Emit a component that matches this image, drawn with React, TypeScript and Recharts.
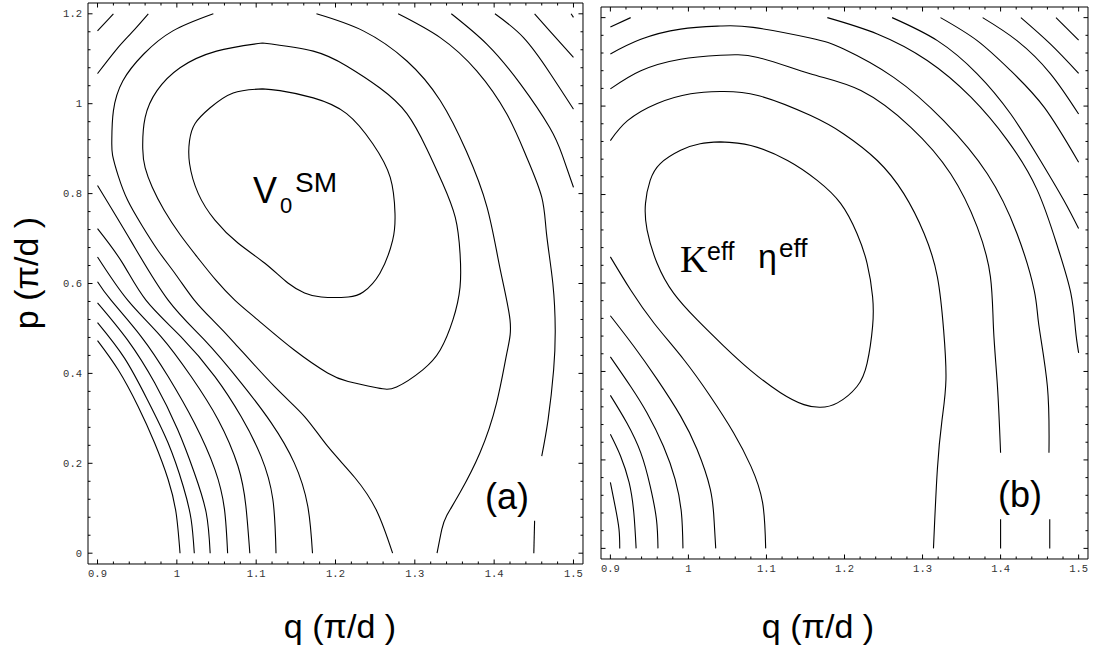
import { LineChart, Line, XAxis, YAxis } from 'recharts'

type Pt = [number, number]

// contour lines, each point is [q, p] in units of pi/d

// panel (a): V0^SM
const aCorner1: Pt[] = [[0.9, 1.162], [0.92, 1.2]]
const aCorner2: Pt[] = [[0.9, 1.067], [0.924, 1.121], [0.943, 1.158], [0.964, 1.2]]
const aWrap: Pt[] = [
  [1.046, 1.2], [0.995, 1.162], [0.958, 1.11], [0.932, 1.051], [0.92, 0.984], [0.918, 0.918],
  [0.919, 0.885], [0.926, 0.84], [0.938, 0.785], [0.956, 0.729], [0.976, 0.674], [0.999, 0.619],
  [1.022, 0.563], [1.045, 0.519], [1.073, 0.467], [1.123, 0.371], [1.161, 0.304], [1.19, 0.238],
  [1.224, 0.169], [1.252, 0.094], [1.272, 0],
]
const aLoopOuter: Pt[] = [
  [1.108, 1.135], [1.172, 1.117], [1.214, 1.084], [1.256, 1.035], [1.29, 0.978], [1.315, 0.9],
  [1.335, 0.823], [1.351, 0.747], [1.357, 0.667], [1.357, 0.592], [1.348, 0.519], [1.332, 0.452],
  [1.31, 0.408], [1.277, 0.37], [1.252, 0.368], [1.216, 0.382], [1.19, 0.401], [1.148, 0.452],
  [1.102, 0.519], [1.073, 0.563], [1.049, 0.608], [1.027, 0.656], [1.004, 0.709], [0.984, 0.763],
  [0.969, 0.814], [0.96, 0.858], [0.957, 0.9], [0.96, 0.969], [0.975, 1.029], [1.004, 1.08],
  [1.05, 1.117], [1.108, 1.135],
]
const aLoopInner: Pt[] = [
  [1.108, 1.033], [1.13, 1.029], [1.172, 1.013], [1.214, 0.978], [1.247, 0.911], [1.269, 0.836],
  [1.275, 0.756], [1.272, 0.696], [1.256, 0.623], [1.235, 0.581], [1.216, 0.57], [1.182, 0.57],
  [1.161, 0.579], [1.14, 0.601], [1.111, 0.645], [1.077, 0.69], [1.048, 0.741], [1.027, 0.8],
  [1.016, 0.867], [1.016, 0.918], [1.023, 0.956], [1.042, 0.991], [1.071, 1.024], [1.108, 1.033],
]
const aLow1: Pt[] = [[0.9, 0.473], [0.926, 0.408], [0.951, 0.327], [0.972, 0.245], [0.989, 0.164], [0.999, 0.09], [1.004, 0]]
const aLow2: Pt[] = [[0.9, 0.513], [0.934, 0.434], [0.963, 0.341], [0.989, 0.245], [1.008, 0.149], [1.018, 0.075], [1.022, 0]]
const aLow3: Pt[] = [[0.9, 0.557], [0.938, 0.474], [0.972, 0.379], [1.001, 0.275], [1.022, 0.179], [1.037, 0.09], [1.042, 0]]
const aLow4: Pt[] = [[0.9, 0.604], [0.917, 0.563], [0.955, 0.482], [0.989, 0.393], [1.022, 0.29], [1.048, 0.186], [1.06, 0.098], [1.064, 0]]
const aLow5: Pt[] = [[0.9, 0.659], [0.938, 0.563], [0.98, 0.482], [1.018, 0.393], [1.052, 0.297], [1.077, 0.194], [1.087, 0.105], [1.092, 0]]
const aLow6: Pt[] = [[0.9, 0.722], [0.931, 0.647], [0.961, 0.563], [1.005, 0.482], [1.048, 0.393], [1.081, 0.304], [1.106, 0.216], [1.121, 0.12], [1.125, 0]]
const aLow7: Pt[] = [[0.9, 0.818], [0.943, 0.692], [0.989, 0.563], [1.035, 0.474], [1.081, 0.379], [1.119, 0.29], [1.148, 0.201], [1.165, 0.105], [1.171, 0]]
const aArc1: Pt[] = [
  [1.176, 1.2], [1.235, 1.162], [1.29, 1.095], [1.332, 1.007], [1.365, 0.894], [1.391, 0.77],
  [1.407, 0.637], [1.42, 0.519], [1.416, 0.445], [1.403, 0.334], [1.382, 0.223], [1.357, 0.135],
  [1.34, 0.083], [1.334, 0.053], [1.328, 0],
]
const aArc2: Pt[] = [
  [1.279, 1.2], [1.332, 1.147], [1.378, 1.073], [1.416, 0.977], [1.441, 0.881], [1.46, 0.792],
  [1.466, 0.711], [1.474, 0.6], [1.477, 0.497], [1.475, 0.408], [1.468, 0.297], [1.46, 0.216],
]
const aArc2End: Pt[] = [[1.451, 0.072], [1.45, 0]]
const aArc3: Pt[] = [[1.346, 1.2], [1.391, 1.132], [1.433, 1.044], [1.47, 0.947], [1.486, 0.885], [1.5, 0.814]]
const aArc4: Pt[] = [[1.401, 1.2], [1.437, 1.147], [1.47, 1.069], [1.5, 0.988]]
const aArc5: Pt[] = [[1.451, 1.2], [1.47, 1.162], [1.5, 1.103]]
const aArc6: Pt[] = [[1.497, 1.2], [1.5, 1.192]]

// panel (b): K^eff eta^eff
const bCorner: Pt[] = [[0.9, 1.179], [0.926, 1.2]]
const bArc1: Pt[] = [
  [0.9, 1.118], [0.939, 1.151], [0.99, 1.174], [1.041, 1.181], [1.083, 1.178], [1.156, 1.154],
  [1.199, 1.129], [1.263, 1.065], [1.327, 0.967], [1.383, 0.847], [1.421, 0.712], [1.443, 0.584],
  [1.449, 0.505], [1.46, 0.366], [1.462, 0.216],
]
const bArc1End: Pt[] = [[1.463, 0.066], [1.463, 0]]
const bArc2: Pt[] = [
  [0.9, 1.039], [0.939, 1.08], [0.99, 1.106], [1.041, 1.115], [1.089, 1.11], [1.156, 1.073],
  [1.221, 1.035], [1.285, 0.952], [1.336, 0.847], [1.37, 0.727], [1.387, 0.614], [1.391, 0.494],
  [1.396, 0.366], [1.4, 0.216],
]
const bArc2End: Pt[] = [[1.4, 0.066], [1.4, 0]]
const bArc3: Pt[] = [
  [0.9, 0.922], [0.922, 0.967], [0.96, 1.006], [1.003, 1.028], [1.041, 1.033], [1.089, 1.024],
  [1.156, 0.979], [1.199, 0.937], [1.242, 0.877], [1.276, 0.802], [1.302, 0.712], [1.319, 0.614],
  [1.327, 0.494], [1.33, 0.382], [1.325, 0.291], [1.319, 0.179], [1.314, 0],
]
const bLoop: Pt[] = [
  [1.041, 0.919], [1.08, 0.911], [1.127, 0.877], [1.165, 0.832], [1.195, 0.78], [1.216, 0.712],
  [1.229, 0.644], [1.236, 0.569], [1.236, 0.502], [1.229, 0.419], [1.216, 0.366], [1.191, 0.329],
  [1.169, 0.319], [1.148, 0.325], [1.118, 0.352], [1.08, 0.402], [1.045, 0.458], [1.011, 0.517],
  [0.981, 0.577], [0.96, 0.644], [0.947, 0.72], [0.945, 0.78], [0.951, 0.832], [0.964, 0.87],
  [0.99, 0.9], [1.015, 0.915], [1.041, 0.919],
]
const bTop1: Pt[] = [[1.178, 1.2], [1.242, 1.163], [1.306, 1.103], [1.362, 1.02], [1.409, 0.922], [1.447, 0.81], [1.473, 0.682], [1.49, 0.577], [1.496, 0.494], [1.5, 0.442]]
const bTop2: Pt[] = [[1.261, 1.2], [1.319, 1.148], [1.37, 1.073], [1.413, 0.982], [1.451, 0.877], [1.481, 0.787], [1.5, 0.723]]
const bTop3: Pt[] = [[1.323, 1.2], [1.37, 1.148], [1.413, 1.08], [1.456, 0.997], [1.5, 0.873]]
const bTop4: Pt[] = [[1.377, 1.2], [1.421, 1.148], [1.464, 1.073], [1.5, 0.982]]
const bTop5: Pt[] = [[1.426, 1.2], [1.464, 1.14], [1.5, 1.074]]
const bTop6: Pt[] = [[1.471, 1.2], [1.5, 1.149]]
const bLow1: Pt[] = [[0.9, 0.149], [0.906, 0.096], [0.911, 0.044], [0.912, 0]]
const bLow2: Pt[] = [[0.9, 0.258], [0.913, 0.209], [0.924, 0.149], [0.93, 0.081], [0.933, 0]]
const bLow3: Pt[] = [[0.9, 0.346], [0.921, 0.284], [0.939, 0.216], [0.951, 0.141], [0.959, 0.066], [0.961, 0]]
const bLow4: Pt[] = [[0.9, 0.433], [0.926, 0.366], [0.947, 0.306], [0.968, 0.231], [0.983, 0.156], [0.991, 0.081], [0.993, 0]]
const bLow5: Pt[] = [[0.9, 0.526], [0.93, 0.457], [0.96, 0.382], [0.99, 0.299], [1.011, 0.224], [1.028, 0.134], [1.033, 0.06], [1.035, 0]]
const bLow6: Pt[] = [[0.9, 0.659], [0.926, 0.584], [0.956, 0.509], [0.994, 0.427], [1.028, 0.344], [1.058, 0.261], [1.08, 0.186], [1.095, 0.104], [1.099, 0]]

const panelA = [aCorner1, aCorner2, aWrap, aLoopOuter, aLoopInner, aLow1, aLow2, aLow3, aLow4, aLow5, aLow6, aLow7,
  aArc1, aArc2, aArc2End, aArc3, aArc4, aArc5, aArc6]
const panelB = [bCorner, bArc1, bArc1End, bArc2, bArc2End, bArc3, bLoop, bTop1, bTop2, bTop3, bTop4, bTop5, bTop6,
  bLow1, bLow2, bLow3, bLow4, bLow5, bLow6]

const Q_DOMAIN: [number, number] = [0.888, 1.512]
const P_DOMAIN: [number, number] = [-0.024, 1.224]

// frame ticks: minor every 0.02 in q and 0.04 in p
const qTicks: number[] = []
for (let i = 0; i <= 30; i++) qTicks.push(+(0.9 + i * 0.02).toFixed(2))
const pTicks: number[] = []
for (let i = 0; i <= 30; i++) pTicks.push(+(i * 0.04).toFixed(2))

const W = 1094
const H = 651
const AX = 0.01 // axes take (almost) no room, the margins place the frame

const isMajor = (v: number, step: number) => Math.abs(v / step - Math.round(v / step)) < 1e-6
const fmt = (v: number) => (Number.isInteger(v) ? String(v) : v.toFixed(1))

const tickFont = {
  fontFamily: '"Liberation Mono", "DejaVu Sans Mono", monospace',
  fontSize: 10.5,
  fill: '#333',
}

const makeTick = (side: 'bottom' | 'top' | 'left' | 'right', labels: boolean) => (props: any) => {
  const { x, y, payload } = props
  const v = payload.value as number
  const horiz = side === 'bottom' || side === 'top'
  const major = isMajor(v, horiz ? 0.1 : 0.2)
  const len = major ? 4.5 : 2.5
  let x2 = x
  let y2 = y
  if (side === 'bottom') y2 = y - len
  if (side === 'top') y2 = y + len
  if (side === 'left') x2 = x + len
  if (side === 'right') x2 = x - len
  return (
    <g>
      <line x1={x} y1={y} x2={x2} y2={y2} stroke="#000" strokeWidth={1} />
      {labels && major && side === 'bottom' && (
        <text x={x} y={y + 13.5} textAnchor="middle" {...tickFont}>{fmt(v)}</text>
      )}
      {labels && major && side === 'left' && (
        <text x={x - 6} y={y + 3.5} textAnchor="end" {...tickFont}>{fmt(v)}</text>
      )}
    </g>
  )
}

interface PanelProps {
  curves: Pt[][]
  margin: { top: number; right: number; bottom: number; left: number }
  yLabels: boolean
}

function Panel({ curves, margin, yLabels }: PanelProps) {
  const axisLine = { stroke: '#000', strokeWidth: 1 }
  return (
    <div style={{ position: 'absolute', left: 0, top: 0 }}>
      <LineChart width={W} height={H} margin={margin}>
        <XAxis xAxisId="b" type="number" dataKey="q" domain={Q_DOMAIN} ticks={qTicks} interval={0}
          height={AX} tickLine={false} tickSize={0} tickMargin={0} axisLine={axisLine}
          tick={makeTick('bottom', true)} allowDataOverflow />
        <XAxis xAxisId="t" orientation="top" type="number" dataKey="q" domain={Q_DOMAIN} ticks={qTicks} interval={0}
          height={AX} tickLine={false} tickSize={0} tickMargin={0} axisLine={axisLine}
          tick={makeTick('top', false)} allowDataOverflow />
        <YAxis yAxisId="l" type="number" domain={P_DOMAIN} ticks={pTicks} interval={0}
          width={AX} tickLine={false} tickSize={0} tickMargin={0} axisLine={axisLine}
          tick={makeTick('left', yLabels)} allowDataOverflow />
        <YAxis yAxisId="r" orientation="right" type="number" domain={P_DOMAIN} ticks={pTicks} interval={0}
          width={AX} tickLine={false} tickSize={0} tickMargin={0} axisLine={axisLine}
          tick={makeTick('right', false)} allowDataOverflow />
        {curves.map((c, i) => (
          <Line key={i} xAxisId="b" yAxisId="l" data={c.map(([q, p]) => ({ q, p }))} dataKey="p"
            type="natural" stroke="#000" strokeWidth={1.1} dot={false} activeDot={false}
            isAnimationActive={false} />
        ))}
      </LineChart>
    </div>
  )
}

const sans = '"Liberation Sans", Arial, sans-serif'

export default function App() {
  return (
    <div style={{ position: 'absolute', left: 0, top: 0, width: W, height: H, background: '#fff', overflow: 'hidden' }}>
      <Panel curves={panelA} margin={{ top: 3, left: 88, right: W - 583, bottom: H - 564 }} yLabels />
      <Panel curves={panelB} margin={{ top: 7, left: 601, right: W - 1088, bottom: H - 559 }} yLabels={false} />
      <svg width={W} height={H} style={{ position: 'absolute', left: 0, top: 0, pointerEvents: 'none' }}>
        <g fontFamily={sans} fill="#000">
          <text transform="translate(38,273) rotate(-90)" textAnchor="middle" fontSize={34}>p (π/d )</text>
          <text x={340} y={638} textAnchor="middle" fontSize={34}>q (π/d )</text>
          <text x={818} y={638} textAnchor="middle" fontSize={34}>q (π/d )</text>
          <text x={253} y={203} fontSize={36}>V</text>
          <text x={280} y={213} fontSize={22}>0</text>
          <text x={295} y={192} fontSize={28}>SM</text>
          <text x={680} y={272} fontSize={38} fontFamily='"Liberation Serif", "Times New Roman", serif'>K</text>
          <text x={707} y={260} fontSize={25}>eff</text>
          <text x={758} y={268} fontSize={34}>η</text>
          <text x={779} y={257} fontSize={26}>eff</text>
          <text x={485} y={509} fontSize={36}>(a)</text>
          <text x={998} y={507} fontSize={36}>(b)</text>
        </g>
      </svg>
    </div>
  )
}
